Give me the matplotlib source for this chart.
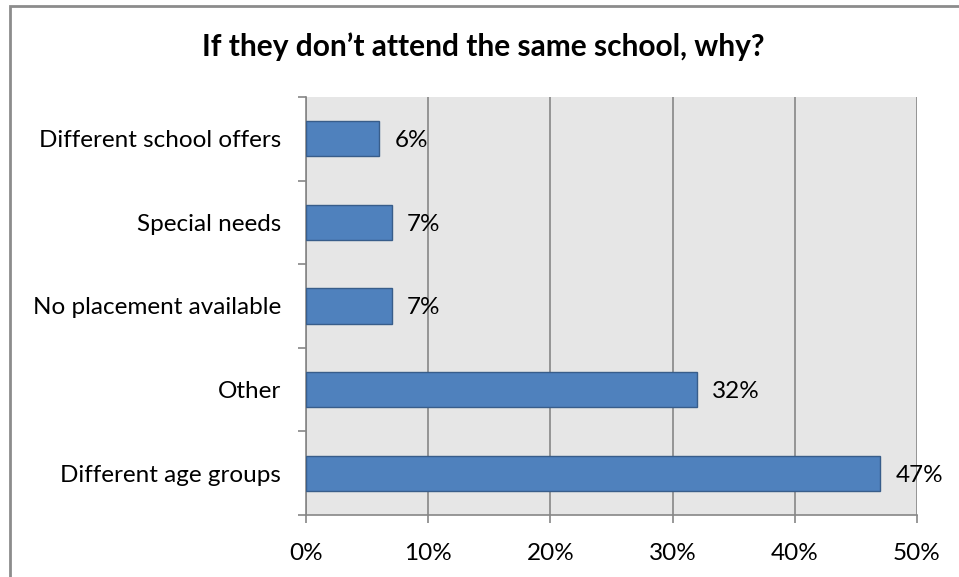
import numpy as np
import matplotlib
matplotlib.use("Agg")
import matplotlib.pyplot as plt
from matplotlib.patches import Rectangle
from matplotlib.ticker import FixedLocator, PercentFormatter

# reasons, listed bottom -> top as drawn
reasons = ["Different age groups", "Other", "No placement available",
           "Special needs", "Different school offers"]
share = [47, 32, 7, 7, 6]   # percent of respondents
xticks = [0, 10, 20, 30, 40, 50]

W, H, DPI = 959, 577, 100
FS = 17.5
plt.rcParams["font.family"] = ["Lato", "DejaVu Sans"]

fig = plt.figure(figsize=(W / DPI, H / DPI), dpi=DPI)

# chart-area frame (runs off the right/bottom edge)
fig.patches.append(Rectangle((9.5 / W, -0.1), 1.2, (H - 6) / H + 0.1, transform=fig.transFigure,
                             fill=False, edgecolor="#8c8c8c", lw=2.0, zorder=0))

L, R, T, B = 306, 917, 97, 515
ax = fig.add_axes([L / W, (H - B) / H, (R - L) / W, (B - T) / H])
ax.set_facecolor("#e6e6e6")

y = np.arange(len(reasons))
ax.barh(y, share, height=0.42, color="#4f81bd", edgecolor="#385d8a", lw=1.0, zorder=3)
for yi, v in zip(y, share):
    ax.annotate(f"{v}%", (v, yi), xytext=(11, 0), textcoords="offset points",
                va="center_baseline", ha="left", fontsize=FS, color="black", zorder=4)

ax.set_xlim(0, 50)
ax.set_ylim(-0.5, len(reasons) - 0.5)
ax.set_xticks(xticks)
ax.xaxis.set_major_formatter(PercentFormatter(decimals=0))
ax.set_yticks(y)
ax.set_yticklabels(reasons)
ax.yaxis.set_minor_locator(FixedLocator(np.arange(-0.5, len(reasons), 1.0)))
ax.tick_params(axis="y", which="major", length=0, pad=18, labelsize=FS)
ax.tick_params(axis="y", which="minor", length=6, width=1.2, color="#868686")
ax.tick_params(axis="x", which="major", length=6, width=1.2, color="#868686", pad=14, labelsize=FS)

ax.grid(axis="x", color="#868686", lw=1.2, zorder=1)
ax.set_axisbelow(True)
for s in ("top", "right"):
    ax.spines[s].set_visible(False)
for s in ("left", "bottom"):
    ax.spines[s].set_color("#868686")
    ax.spines[s].set_linewidth(1.2)

fig.text(483 / W, 1 - 47 / H, "If they don\u2019t attend the same school, why?",
         ha="center", va="center", fontsize=21.5, fontweight="bold")

fig.savefig("out.png", dpi=DPI)
